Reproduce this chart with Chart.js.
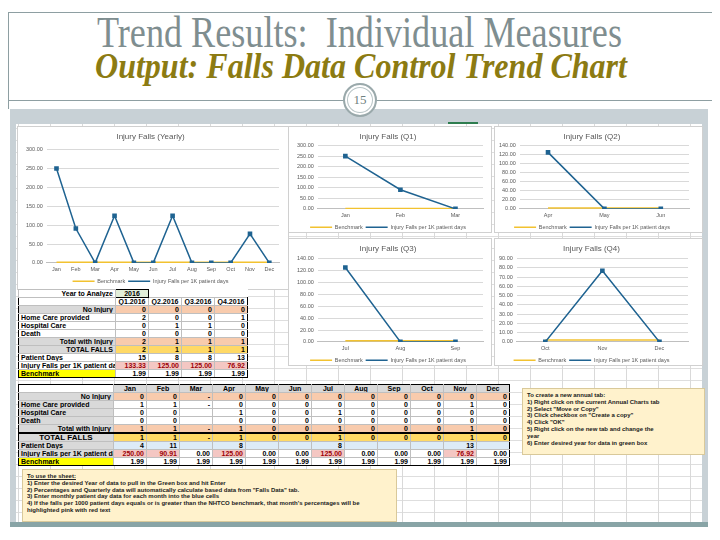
<!DOCTYPE html>
<html>
<head>
<meta charset="utf-8">
<script src="https://cdn.jsdelivr.net/npm/chart.js@4/dist/chart.umd.min.js"></script>
<style>
  body { margin: 0; width: 720px; height: 540px; background: #fff; position: relative; overflow: hidden; font-family: "Liberation Sans", Arial, sans-serif; }
  .abs { position: absolute; }
  .line { background: #8e9fa2; }
  .fit { white-space: nowrap; display: inline-block; transform-origin: left top; }
  #title { left: 97px; top: 7px; font: 44px "Liberation Serif", serif; color: #7f8e90; }
  #subtitle { left: 95px; top: 45px; font: italic bold 36px "Liberation Serif", serif; color: #8c7b12; }
  #pnum { left: 343px; top: 83px; width: 30px; height: 30px; border-radius: 50%; border: 2px solid #9aa9ab; background: #fff; box-shadow: inset 0 0 0 2px #fff, inset 0 0 0 3px #b8c4c6; font: 13px "Liberation Serif", serif; color: #6f7f80; text-align: center; line-height: 30px; z-index: 3; }
  #band { left: 10px; top: 109px; width: 698px; height: 418px; background: #c8d1d6; }
  #sheet { left: 16px; top: 124px; width: 686px; height: 398px; background-color: #fff;
    background-image: linear-gradient(to right, #d9d9d9 1px, transparent 1px), linear-gradient(to bottom, #dedede 1px, transparent 1px);
    background-size: 32px 12px; background-position: 2px 4px; }
  #foot { left: 10px; top: 522px; width: 698px; height: 5px; background: #88a4a6; }
  .chart { background: #fff; border: 1px solid #d0d0d0; }
  table { border-collapse: collapse; table-layout: fixed; font: bold 7px "Liberation Sans", Arial, sans-serif; color: #000; background: #fff; }
  td { height: 7px; line-height: 7px; padding: 0 2px; border: 1px solid #bfbfbf; text-align: right; overflow: hidden; white-space: nowrap; }
  td.lab { text-align: left; }
  td.rlab { text-align: right; }
  .note { background: #fff2cc; border: 1px solid #d9c99a; font: bold 6px "Liberation Sans", Arial, sans-serif; color: #222; line-height: 6.8px; padding: 3px 4px; box-sizing: border-box; }
</style>
</head>
<body>
<div class="abs line" style="left:8px;top:12px;width:704px;height:1px"></div>
<div class="abs line" style="left:8px;top:12px;width:1px;height:97px"></div>
<div class="abs line" style="left:8px;top:100px;width:704px;height:1px"></div>
<div class="abs" id="title"><span class="fit" data-w="525">Trend Results:&nbsp; Individual Measures</span></div>
<div class="abs" id="subtitle"><span class="fit" data-w="532">Output: Falls Data Control Trend Chart</span></div>
<div class="abs" id="band"></div>
<div class="abs" id="sheet"></div>
<div class="abs" style="left:448px;top:122px;width:30px;height:2px;background:#2e7d4f"></div>
<div class="abs" id="foot"></div>
<div class="abs" id="pnum">15</div>

<div class="abs chart" style="left:17px;top:126px;width:270px;height:162px"><canvas id="cYear"></canvas></div>
<div class="abs chart" style="left:288px;top:126px;width:202px;height:105px"><canvas id="cQ1"></canvas></div>
<div class="abs chart" style="left:494px;top:126px;width:207px;height:105px"><canvas id="cQ2"></canvas></div>
<div class="abs chart" style="left:288px;top:238px;width:202px;height:126px"><canvas id="cQ3"></canvas></div>
<div class="abs chart" style="left:494px;top:238px;width:207px;height:126px"><canvas id="cQ4"></canvas></div>

<table class="abs" id="qTable" style="left:18px;top:289px;width:229px"></table>
<table class="abs" id="mTable" style="left:18px;top:384px;width:491px"></table>

<div class="abs note" style="left:22px;top:469px;width:375px;height:53px">
  <u>To use the sheet:</u><br>
  1) Enter the desired Year of data to pull in the Green box and hit Enter<br>
  2) Percentages and Quarterly data will automatically calculate based data from "Falls Data" tab.<br>
  3) Enter monthly patient day data for each month into the blue cells<br>
  4) If the falls per 1000 patient days equals or is greater than the NHTCO benchmark, that month's percentages will be<br>
  highlighted pink with red text
</div>
<div class="abs note" style="left:522px;top:388px;width:183px;height:67px">
  To create a new annual tab:<br>
  1) Right click on the current Annual Charts tab<br>
  2) Select "Move or Copy"<br>
  3) Click checkbox on "Create a copy"<br>
  4) Click "OK"<br>
  5) Right click on the new tab and change the<br>
  year<br>
  6) Enter desired year for data in green box
</div>

<script>
const months = ['Jan','Feb','Mar','Apr','May','Jun','Jul','Aug','Sep','Oct','Nov','Dec'];
const fallsPer1K = [250.00, 90.91, 0.00, 125.00, 0.00, 0.00, 125.00, 0.00, 0.00, 0.00, 76.92, 0.00];
const benchmark = [1.99, 1.99, 1.99, 1.99, 1.99, 1.99, 1.99, 1.99, 1.99, 1.99, 1.99, 1.99];

const mNoInjury    = [0, 0, '-', 0, 0, 0, 0, 0, 0, 0, 0, 0];
const mHomeCare    = [1, 1, '-', 0, 0, 0, 0, 0, 0, 0, 1, 0];
const mHospital    = [0, 0, '', 1, 0, 0, 1, 0, 0, 0, 0, 0];
const mDeath       = [0, 0, '', 0, 0, 0, 0, 0, 0, 0, 0, 0];
const mTotalInjury = [1, 1, '-', 1, 0, 0, 1, 0, 0, 0, 1, 0];
const mTotalFalls  = [1, 1, '-', 1, 0, 0, 1, 0, 0, 0, 1, 0];
const mPatientDays = [4, 11, '', 8, '', '', 8, '', '', '', 13, ''];

const quarters     = ['Q1.2016', 'Q2.2016', 'Q3.2016', 'Q4.2016'];
const qNoInjury    = [0, 0, 0, 0];
const qHomeCare    = [2, 0, 0, 1];
const qHospital    = [0, 1, 1, 0];
const qDeath       = [0, 0, 0, 0];
const qTotalInjury = [2, 1, 1, 1];
const qTotalFalls  = [2, 1, 1, 1];
const qPatientDays = [15, 8, 8, 13];
const qFallsPer1K  = [133.33, 125.00, 125.00, 76.92];
const qBenchmark   = [1.99, 1.99, 1.99, 1.99];

const axisMax  = [300, 300, 140, 140, 90];
const axisStep = [50, 50, 20, 20, 10];

// squeeze the slide titles to their width
document.querySelectorAll('.fit').forEach(el => {
  const w = el.getBoundingClientRect().width;
  el.style.transform = 'scaleX(' + (el.dataset.w / w) + ')';
});

const grey = '#595959';
const small = { size: 5.5, family: 'Liberation Sans' };

// chart.js adds 10px under a bottom legend, take most of it back
const tightLegend = {
  id: 'tightLegend',
  beforeInit(chart) {
    const fit = chart.legend.fit;
    chart.legend.fit = function () { fit.call(this); this.height -= 9; };
  }
};

function makeChart(id, title, labels, values, bench, max, step, titleGap, padL, padR, padB) {
  new Chart(document.getElementById(id), {
    type: 'line',
    data: {
      labels: labels,
      datasets: [
        { label: 'Injury Falls per 1K patient days', data: values, borderColor: '#1f6391', backgroundColor: '#1f6391',
          borderWidth: 1.5, pointStyle: 'rect', pointRadius: 2.2, tension: 0 },
        { label: 'Benchmark', data: bench, borderColor: '#f2c230', backgroundColor: '#f2c230',
          borderWidth: 1.5, pointRadius: 0, tension: 0 }
      ]
    },
    plugins: [tightLegend],
    options: {
      responsive: true, maintainAspectRatio: false, animation: false,
      layout: { padding: { left: padL, right: padR, top: 0, bottom: padB } },
      plugins: {
        title: { display: true, text: title, color: grey, font: { size: 8, family: 'Liberation Sans', weight: 'normal' }, padding: { top: 5, bottom: titleGap } },
        legend: { position: 'bottom', labels: { usePointStyle: true, pointStyle: 'line', pointStyleWidth: 22, boxHeight: 4,
          font: small, color: grey, padding: 3, sort: (a, b) => b.datasetIndex - a.datasetIndex } },
        tooltip: { enabled: false }
      },
      scales: {
        x: { offset: true, grid: { display: false, drawTicks: false, tickLength: 0 }, border: { color: '#bfbfbf' },
             ticks: { font: small, color: grey, maxRotation: 0, autoSkip: false, padding: 3 } },
        y: { min: 0, max: max, grid: { color: '#d9d9d9', drawTicks: false, tickLength: 0 }, border: { display: false },
             ticks: { stepSize: step, autoSkip: false, font: small, color: grey, padding: 4, callback: v => v.toFixed(2) } }
      }
    }
  });
}

makeChart('cYear', 'Injury Falls (Yearly)', months, fallsPer1K, benchmark, axisMax[0], axisStep[0], 8, 4, 9, 4);
makeChart('cQ1', 'Injury Falls (Q1)', months.slice(0, 3), fallsPer1K.slice(0, 3), benchmark.slice(0, 3), axisMax[1], axisStep[1], 4, 4, 8, 1);
makeChart('cQ2', 'Injury Falls (Q2)', months.slice(3, 6), fallsPer1K.slice(3, 6), benchmark.slice(3, 6), axisMax[2], axisStep[2], 4, 0, 13, 1);
makeChart('cQ3', 'Injury Falls (Q3)', months.slice(6, 9), fallsPer1K.slice(6, 9), benchmark.slice(6, 9), axisMax[3], axisStep[3], 5, 4, 8, 1);
makeChart('cQ4', 'Injury Falls (Q4)', months.slice(9, 12), fallsPer1K.slice(9, 12), benchmark.slice(9, 12), axisMax[4], axisStep[4], 5, 0, 14, 1);

// tables
const orange = '#f8cbad', gold = '#ffd966', labGrey = '#d9d9d9', pink = '#f4c7c3', blue = '#ddebf7';

function cell(text, bg, cls, color) {
  const td = document.createElement('td');
  td.textContent = text;
  if (bg) td.style.background = bg;
  if (cls) td.className = cls;
  if (color) td.style.color = color;
  return td;
}

function addRow(table, label, labBg, labCls, vals, valBg, fmt, extra) {
  const tr = document.createElement('tr');
  tr.appendChild(cell(label, labBg, labCls));
  vals.forEach((v, i) => {
    let bg = valBg, color = null;
    if (extra) { const e = extra(v, i); if (e) { bg = e.bg; color = e.color; } }
    tr.appendChild(cell(fmt ? fmt(v) : v, bg, null, color));
  });
  table.appendChild(tr);
  return tr;
}

const hot = (v) => v >= 1.99 ? { bg: pink, color: '#9c0006' } : null;
const two = v => v.toFixed(2);

// quarterly
const qt = document.getElementById('qTable');
const cg1 = document.createElement('colgroup');
cg1.innerHTML = '<col style="width:97px">' + '<col style="width:33px">'.repeat(4);
qt.appendChild(cg1);
const r0 = document.createElement('tr');
r0.appendChild(cell('Year to Analyze', '#fff', 'rlab'));
const yc = cell('2016', '#e2efda'); yc.style.textAlign = 'center'; yc.style.border = '1.5px solid #000'; r0.appendChild(yc);
for (let i = 0; i < 3; i++) { const e = cell(''); e.style.border = 'none'; e.style.background = 'transparent'; r0.appendChild(e); }
qt.appendChild(r0);
const rh = document.createElement('tr');
rh.appendChild(cell('', '#fff'));
quarters.forEach(q => { const c = cell(q, '#fff'); c.style.textAlign = 'center'; c.style.padding = '0'; rh.appendChild(c); });
rh.style.borderTop = '1.5px solid #000';
qt.appendChild(rh);
addRow(qt, 'No Injury', labGrey, 'rlab', qNoInjury, orange);
addRow(qt, 'Home Care provided', '#fff', 'lab', qHomeCare, '#fff');
addRow(qt, 'Hospital Care', '#fff', 'lab', qHospital, '#fff');
addRow(qt, 'Death', '#fff', 'lab', qDeath, '#fff');
addRow(qt, 'Total with Injury', labGrey, 'rlab', qTotalInjury, orange);
addRow(qt, 'TOTAL FALLS', labGrey, 'rlab', qTotalFalls, gold);
addRow(qt, 'Patient Days', '#fff', 'lab', qPatientDays, '#fff');
addRow(qt, 'Injury Falls per 1K patient days', '#fff', 'lab', qFallsPer1K, '#fff', two, hot);
addRow(qt, 'Benchmark', '#ffff00', 'lab', qBenchmark, '#fff', two);
for (let i = 1; i < qt.rows.length; i++) {
  const cs = qt.rows[i].cells;
  cs[0].style.borderLeft = '1.5px solid #000';
  cs[cs.length - 1].style.borderRight = '1.5px solid #000';
  if (i === qt.rows.length - 1) for (const c of cs) c.style.borderBottom = '1.5px solid #000';
}

// monthly
const mt = document.getElementById('mTable');
const cg2 = document.createElement('colgroup');
cg2.innerHTML = '<col style="width:95px">' + '<col style="width:33px">'.repeat(12);
mt.appendChild(cg2);
const mh = document.createElement('tr');
mh.appendChild(cell('', '#fff'));
months.forEach(m => { const c = cell(m, labGrey); c.style.textAlign = 'center'; mh.appendChild(c); });
mt.appendChild(mh);
addRow(mt, 'No Injury', labGrey, 'rlab', mNoInjury, orange);
addRow(mt, 'Home Care provided', labGrey, 'lab', mHomeCare, '#fff');
addRow(mt, 'Hospital Care', labGrey, 'lab', mHospital, '#fff');
addRow(mt, 'Death', labGrey, 'lab', mDeath, '#fff');
addRow(mt, 'Total with Injury', labGrey, 'rlab', mTotalInjury, orange);
const tf = addRow(mt, 'TOTAL FALLS', labGrey, 'rlab', mTotalFalls, gold);
tf.cells[0].style.fontSize = '8px'; tf.cells[0].style.textAlign = 'center';
for (const c of tf.cells) c.style.borderTop = '2px solid #000';
addRow(mt, 'Patient Days', labGrey, 'lab', mPatientDays, blue);
addRow(mt, 'Injury Falls per 1K patient days', labGrey, 'lab', fallsPer1K, '#fff', two, hot);
addRow(mt, 'Benchmark', '#ffff00', 'lab', benchmark, '#fff', two);
for (let i = 0; i < mt.rows.length; i++) {
  const cs = mt.rows[i].cells;
  cs[0].style.borderLeft = '1.5px solid #000';
  cs[cs.length - 1].style.borderRight = '1.5px solid #000';
  if (i === 0) for (const c of cs) c.style.borderTop = '1.5px solid #000';
  if (i === mt.rows.length - 1) for (const c of cs) c.style.borderBottom = '1.5px solid #000';
}
</script>
</body>
</html>
